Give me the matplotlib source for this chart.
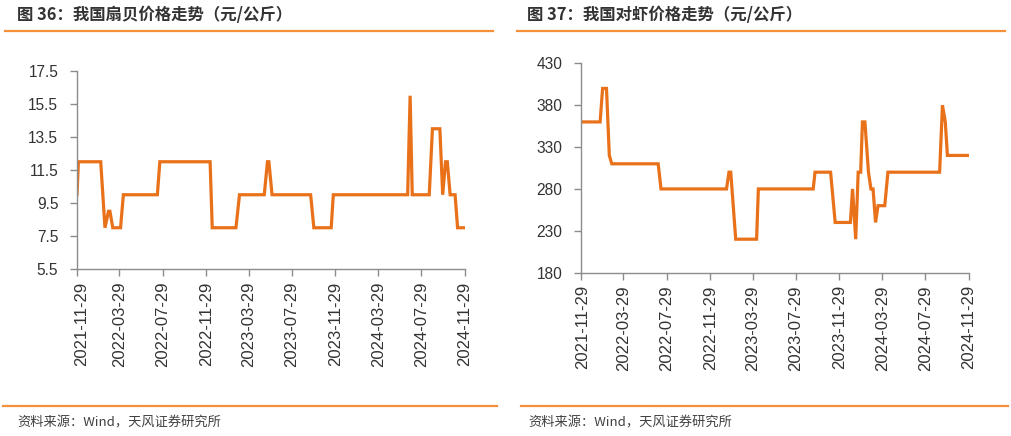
import matplotlib
matplotlib.use("Agg")
import matplotlib.pyplot as plt
import matplotlib.transforms as mtransforms
from matplotlib.lines import Line2D
import pandas as pd

# ---------------- data ----------------
scallop_dates = ["2021-11-29", "2021-12-03", "2022-02-04", "2022-02-16", "2022-02-26", "2022-03-02",
                 "2022-03-10", "2022-04-01", "2022-04-09", "2022-07-14", "2022-07-21", "2022-12-10",
                 "2022-12-16", "2023-02-21", "2023-03-03", "2023-05-12", "2023-05-21", "2023-05-25",
                 "2023-06-03", "2023-09-20", "2023-09-29", "2023-11-17", "2023-11-23", "2024-06-20",
                 "2024-06-27", "2024-07-03", "2024-08-20", "2024-08-29", "2024-09-19", "2024-09-27",
                 "2024-10-05", "2024-10-10", "2024-10-18", "2024-11-01", "2024-11-08", "2024-11-28"]
scallop_price = [10, 12, 12, 8, 9, 9,
                 8, 8, 10, 10, 12, 12,
                 8, 8, 10, 10, 12, 12,
                 10, 10, 8, 8, 10, 10,
                 16, 10, 10, 14, 14, 10,
                 12, 12, 10, 10, 8, 8]

shrimp_dates = ["2021-11-29", "2022-01-22", "2022-01-29", "2022-02-09", "2022-02-17", "2022-02-24",
                "2022-07-05", "2022-07-13", "2023-01-14", "2023-01-21", "2023-01-26", "2023-02-09",
                "2023-04-09", "2023-04-14", "2023-09-16", "2023-09-21", "2023-11-04", "2023-11-17",
                "2023-12-30", "2024-01-05", "2024-01-14", "2024-01-21", "2024-01-28", "2024-02-02",
                "2024-02-09", "2024-02-19", "2024-02-26", "2024-03-03", "2024-03-10", "2024-03-17",
                "2024-04-05", "2024-04-14", "2024-09-07", "2024-09-15", "2024-09-23", "2024-09-29",
                "2024-11-29"]
shrimp_price = [360, 360, 400, 400, 320, 310,
                310, 280, 280, 300, 300, 220,
                220, 280, 280, 300, 300, 240,
                240, 280, 220, 300, 300, 360,
                360, 300, 280, 280, 240, 260,
                260, 300, 300, 380, 360, 320,
                320]

tick_dates = ["2021-11-29", "2022-03-29", "2022-07-29", "2022-11-29", "2023-03-29",
              "2023-07-29", "2023-11-29", "2024-03-29", "2024-07-29", "2024-11-29"]

scallop_yticks = [5.5, 7.5, 9.5, 11.5, 13.5, 15.5, 17.5]
shrimp_yticks = [180, 230, 280, 330, 380, 430]

titles = ["图 36：我国扇贝价格走势（元/公斤）", "图 37：我国对虾价格走势（元/公斤）"]
source = "资料来源：Wind，天风证券研究所"

# ---------------- style ----------------
W, H = 1011, 436
LINE = "#E8711A"
RULE = "#F5913A"
SPINE = "#8C8C8C"
TXT = "#333333"
CJK = ["Noto Sans CJK SC", "DejaVu Sans"]
NUM = ["Liberation Sans", "DejaVu Sans"]

fig = plt.figure(figsize=(W / 100, H / 100), dpi=100)
fig.patch.set_facecolor("white")


def px_axes(x0, x1, ytop, ybot):
    return fig.add_axes([x0 / W, 1 - ybot / H, (x1 - x0) / W, (ybot - ytop) / H])


def style(ax, yticks, ylim, fmt, first_shift_px):
    xt = pd.to_datetime(tick_dates)
    ax.set_xlim(xt[0], xt[-1])
    ax.set_xticks(xt)
    ax.set_xticklabels([d.strftime("%Y-%m-%d") for d in xt], rotation=90,
                       fontsize=12, color=TXT, family=NUM)
    ax.set_ylim(*ylim)
    ax.set_yticks(yticks)
    ax.set_yticklabels([fmt.format(v) for v in yticks],
                       fontsize=11.2, color=TXT, family=NUM)
    for s in ["top", "right"]:
        ax.spines[s].set_visible(False)
    for s in ["left", "bottom"]:
        ax.spines[s].set_color(SPINE)
        ax.spines[s].set_linewidth(1.0)
    ax.tick_params(axis="both", direction="out", length=5, width=1.0, color=SPINE)
    ax.tick_params(axis="y", pad=8.5)
    ax.tick_params(axis="x", pad=4)
    ax.set_facecolor("none")
    # first date label sits slightly right of its tick in the reference
    lab0 = ax.get_xticklabels()[0]
    lab0.set_transform(lab0.get_transform() +
                       mtransforms.ScaledTranslation(first_shift_px / 100, 0, fig.dpi_scale_trans))


# left panel
ax1 = px_axes(77, 465, 71, 269)
ax1.plot(pd.to_datetime(scallop_dates), scallop_price, color=LINE, lw=2.3, solid_joinstyle="miter")
style(ax1, scallop_yticks, (5.5, 17.5), "{:.1f}", 5)

# right panel
ax2 = px_axes(581, 969, 63.3, 272.7)
ax2.plot(pd.to_datetime(shrimp_dates), shrimp_price, color=LINE, lw=2.3, solid_joinstyle="miter")
style(ax2, shrimp_yticks, (180, 430), "{:d}", 2)

# titles, rules, sources
fig.text(17 / W, 1 - 15 / H, titles[0], family=CJK, fontsize=11.8, fontweight="bold",
         color=TXT, va="center", ha="left")
fig.text(527 / W, 1 - 15 / H, titles[1], family=CJK, fontsize=11.8, fontweight="bold",
         color=TXT, va="center", ha="left")
for (a, b) in [(5, 493), (517, 1005)]:
    fig.add_artist(Line2D([a / W, b / W], [1 - 31 / H, 1 - 31 / H], color=RULE, lw=1.6))
for (a, b) in [(3, 497), (521, 1008)]:
    fig.add_artist(Line2D([a / W, b / W], [1 - 406 / H, 1 - 406 / H], color=RULE, lw=1.6))
fig.text(17 / W, 1 - 423 / H, source, family=CJK, fontsize=9.5, color="#404040",
         va="center", ha="left")
fig.text(528 / W, 1 - 423 / H, source, family=CJK, fontsize=9.5, color="#404040",
         va="center", ha="left")

fig.savefig("out.png", dpi=100, facecolor="white")
